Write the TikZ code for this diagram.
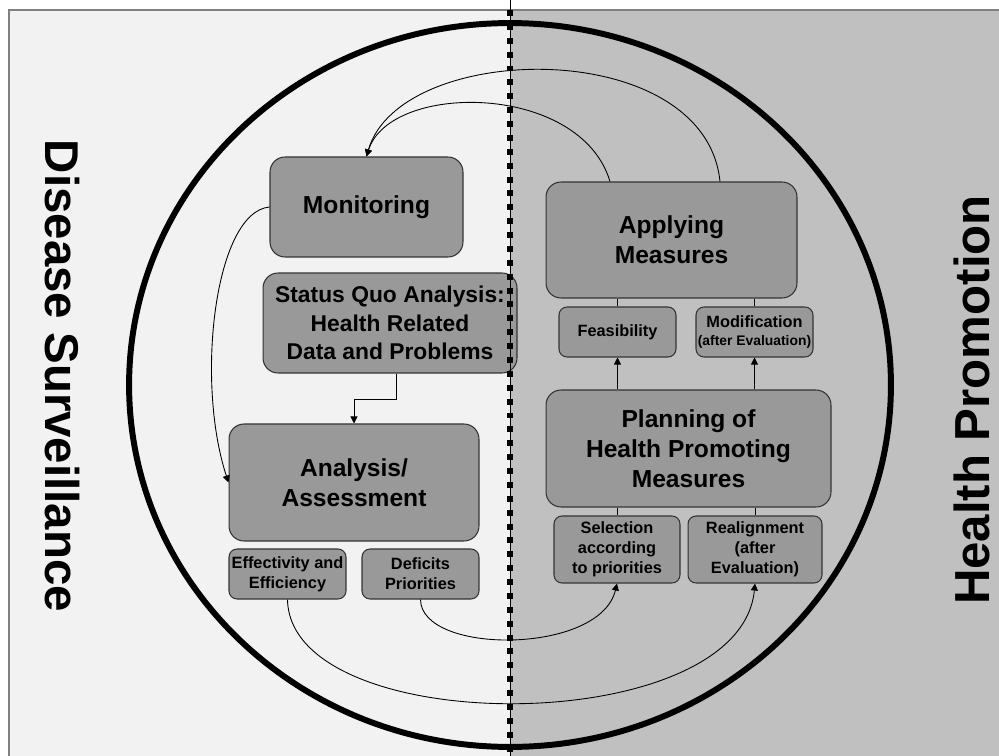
\documentclass[tikz,border=0pt]{standalone}
\usepackage{fontspec}
\setmainfont{Liberation Sans}
\usetikzlibrary{arrows.meta}

\definecolor{leftbg}{RGB}{242,242,242}
\definecolor{rightbg}{RGB}{192,192,192}
\definecolor{boxfill}{RGB}{153,153,153}
\definecolor{boxline}{RGB}{51,51,51}

\tikzset{
    bigbox/.style={draw=boxline, fill=boxfill, line width=0.6pt, rounded corners=0.3cm,
        align=center, inner sep=0pt, font=\fontsize{14}{17}\selectfont\bfseries},
    smallbox/.style={draw=boxline, fill=boxfill, line width=0.6pt, rounded corners=0.16cm,
        align=center, inner sep=0pt, font=\fontsize{9.3}{11.3}\selectfont\bfseries},
    link/.style={draw=black, line width=0.5pt},
    tip/.style={-{Triangle[length=4pt,width=4pt]}}
}

\begin{document}
\begin{tikzpicture}[x=0.02cm,y=-0.02cm]
    \useasboundingbox (0,0) rectangle (999,756);
    \clip (0,0) rectangle (999,756);
    % two halves
    \fill[leftbg] (9,10) rectangle (510,770);
    \fill[rightbg] (510,10) rectangle (1010,770);
    \draw[draw=gray, line width=1pt] (1010,10) -- (9,10) -- (9,770);
    \draw[line width=3.4pt] (510,385) ellipse [x radius=7.62cm, y radius=7.24cm];

    \node[rotate=-90, font=\fontsize{27}{27}\selectfont\bfseries] (surv) at (62,376) {Disease Surveillance};
    \node[rotate=90, inner sep=0pt, font=\fontsize{28}{28}\selectfont\bfseries] (promo) at (972,400) {Health Promotion};

    % left side
    \node[bigbox, minimum width=3.86cm, minimum height=2cm] (monitor) at (366.5,207) {Monitoring};
    \node[bigbox, minimum width=5.08cm, minimum height=2cm, font=\fontsize{13}{16.4}\selectfont\bfseries] (status) at (390,323)
        {Status Quo Analysis:\\Health Related\\Data and Problems};
    \node[bigbox, minimum width=5cm, minimum height=2.34cm] (analysis) at (354,482.5) {Analysis/\\Assessment};
    \node[smallbox, minimum width=2.34cm, minimum height=1cm] (effect) at (287.5,574) {Effectivity and\\Efficiency};
    \node[smallbox, minimum width=2.34cm, minimum height=1cm] (deficits) at (420.5,574) {Deficits\\Priorities};

    % right side
    \node[bigbox, minimum width=5.02cm, minimum height=2.32cm] (apply) at (671.5,240) {Applying\\Measures};
    \node[smallbox, minimum width=2.34cm, minimum height=1cm] (feas) at (617.5,332) {Feasibility};
    \node[smallbox, minimum width=2.34cm, minimum height=1cm] (modif) at (754.5,332)
        {Modification\\[-1pt]{\fontsize{7.9}{9}\selectfont(after Evaluation)}};
    \node[bigbox, minimum width=5.7cm, minimum height=2.34cm] (plan) at (688.5,448.5) {Planning of\\Health Promoting\\Measures};
    \node[smallbox, minimum width=2.52cm, minimum height=1.34cm] (select) at (617,549.5) {Selection\\according\\to priorities};
    \node[smallbox, minimum width=2.68cm, minimum height=1.34cm] (realign) at (755,549.5) {Realignment\\(after\\Evaluation)};

    \draw[link] (feas.north) -- (feas.north |- apply.south);
    \draw[link] (modif.north) -- (modif.north |- apply.south);
    \draw[link,tip] (feas.south |- plan.north) -- (feas.south);
    \draw[link,tip] (modif.south |- plan.north) -- (modif.south);
    \draw[link] (select.north) -- (select.north |- plan.south);
    \draw[link] (realign.north) -- (realign.north |- plan.south);
    \draw[link,tip] ([xshift=0.12cm]status.south) -- ++(0,26) -| (analysis.north);
    \draw[link,tip] (monitor.west) .. controls (215,212) and (195,380) .. (analysis.west);
    \draw[link,tip] ([xshift=-1.23cm]apply.north) .. controls (580,82) and (390,82) .. (monitor.north);
    \draw[link,tip] ([xshift=0.97cm]apply.north) .. controls (705,35) and (400,40) .. (monitor.north);
    \draw[link,tip] (deficits.south) .. controls (421,655) and (600,655) .. (select.south);
    \draw[link,tip] (effect.south) .. controls (290,740) and (740,740) .. (realign.south);

    % divider
    \draw[line width=0.5pt] (510,0) -- (510,756);
    \draw[line width=3.4pt, dash pattern=on 3.4pt off 4.5pt] (510,10) -- (510,756);
\end{tikzpicture}
\end{document}
